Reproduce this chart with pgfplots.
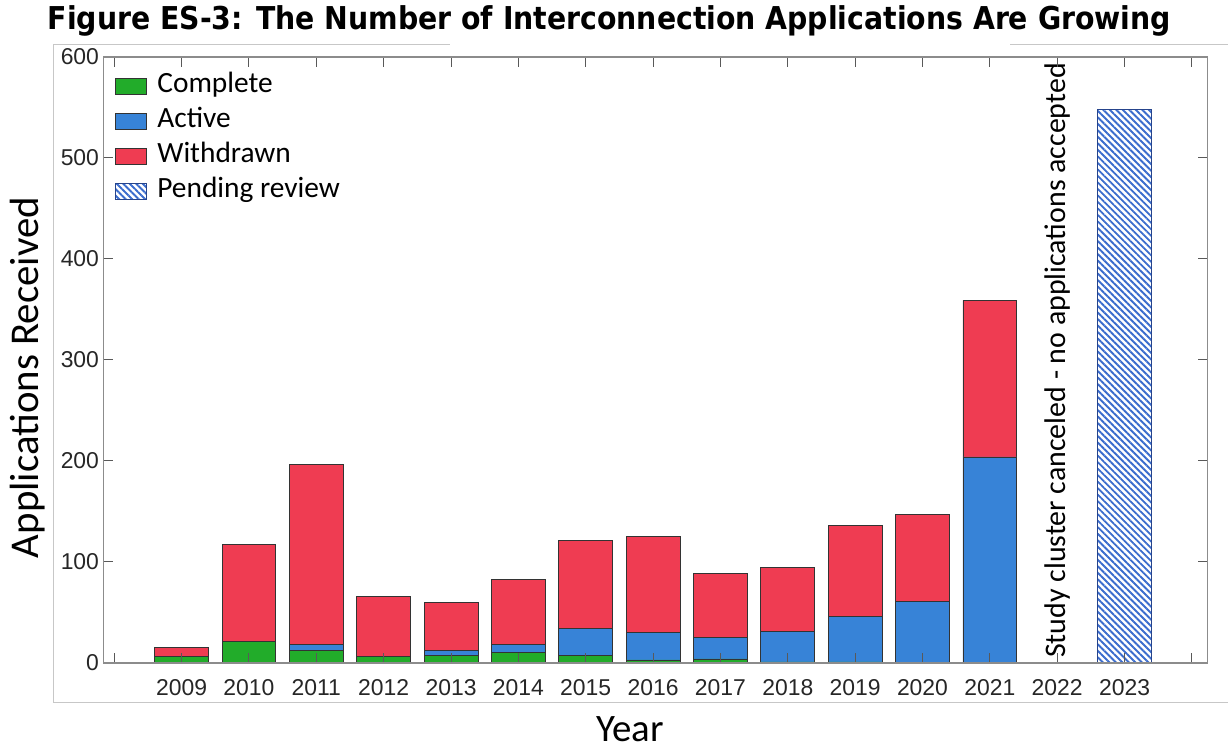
\documentclass[border=0pt]{standalone}
\usepackage{fontspec}
\setmainfont{Carlito}
\newfontfamily\arialfont{Liberation Sans}
\newfontfamily\titlefont{DejaVu Sans Condensed}
\usepackage{pgfplots}
\pgfplotsset{compat=1.18}
\usepackage{pgfplotstable}
\usetikzlibrary{patterns.meta}

\definecolor{compcol}{RGB}{34,172,42}
\definecolor{actcol}{RGB}{55,131,215}
\definecolor{wdcol}{RGB}{239,60,82}
\definecolor{hatchcol}{RGB}{58,108,205}
\definecolor{hatchedge}{RGB}{38,68,140}
\definecolor{ticktext}{RGB}{38,38,38}

\pgfplotstableread{
year complete active withdrawn pending
2009 6  0   9   0
2010 21 0   96  0
2011 12 6   179 0
2012 6  0   60  0
2013 7  5   48  0
2014 10 8   65  0
2015 7  27  87  0
2016 3  27  95  0
2017 4  21  64  0
2018 1  30  64  0
2019 1  45  90  0
2020 0  61  86  0
2021 0  204 155 0
2022 0  0   0   0
2023 0  0   0   548
}\apps

\begin{document}
\begin{tikzpicture}
\useasboundingbox (0,0) rectangle (1228bp,750bp);
% light frame of the original figure
\draw[black!22, line width=1bp] (53bp,705bp) -- (53bp,47bp) -- (1228bp,47bp);
\draw[black!22, line width=1bp] (53bp,705bp) -- (450bp,705bp);
\draw[black!22, line width=1bp] (1010bp,705bp) -- (1228bp,705bp);
\begin{axis}[
  at={(103.5bp,87bp)}, anchor=south west,
  scale only axis,
  width=1104bp, height=606bp,
  ybar stacked,
  bar width=0.8,
  xmin=2007.84, xmax=2024.23,
  ymin=0, ymax=600,
  xtick={2008,...,2024},
  xticklabels={{},2009,2010,2011,2012,2013,2014,2015,2016,2017,2018,2019,2020,2021,2022,2023,{}},
  ytick={0,100,...,600},
  /pgf/number format/assume math mode=true,
  tick label style={font=\arialfont\fontsize{23}{23}\selectfont, text=ticktext},
  xticklabel style={yshift=-13bp},
  yticklabel style={xshift=-1bp},
  tick align=inside,
  major tick length=10bp,
  tick style={draw=black!65, line width=1bp},
  axis line style={draw=black!45, line width=1.3bp},
  axis on top,
  title={\titlefont\bfseries\fontsize{31.6}{32}\selectfont Figure ES-3: The Number of Interconnection Applications Are Growing},
  title style={at={(rel axis cs:0.4583,1.0347)}, anchor=base, inner sep=0pt},
  xlabel={Year},
  xlabel style={at={(rel axis cs:0.477,-0.109)}, anchor=center, inner sep=0pt, font=\fontsize{39}{39}\selectfont},
  ylabel={Applications Received},
  ylabel style={at={(rel axis cs:-0.0684,0.471)}, anchor=center, font=\fontsize{41}{41}\selectfont},
  legend style={at={(rel axis cs:0,1)}, anchor=north west, draw=none, fill=none,
    inner xsep=11bp, inner ysep=12bp,
    font=\fontsize{29.5}{29.5}\selectfont,
    nodes={inner sep=4.75bp, text height=19bp, text depth=6bp},
    /tikz/every odd column/.append style={column sep=6bp},
    row sep=0.5bp},
  legend cell align=left,
  legend image code/.code={\draw[#1] (0bp,-8bp) rectangle (31bp,8bp);},
  every axis plot/.append style={draw=black!80, line width=0.9bp},
]
\addplot[fill=compcol] table[x=year, y=complete] {\apps};
\addlegendentry{Complete}
\addplot[fill=actcol] table[x=year, y=active] {\apps};
\addlegendentry{Active}
\addplot[fill=wdcol] table[x=year, y=withdrawn] {\apps};
\addlegendentry{Withdrawn}
\addplot[draw=hatchedge, pattern={Lines[angle=-45, distance=4.6bp, line width=1.9bp]}, pattern color=hatchcol] table[x=year, y=pending] {\apps};
\addlegendentry{Pending review}
\node[rotate=90, anchor=west, font=\fontsize{30}{30}\selectfont, inner sep=0pt] at (axis cs:2022,5) {Study cluster canceled - no applications accepted};
\end{axis}
\end{tikzpicture}
\end{document}
